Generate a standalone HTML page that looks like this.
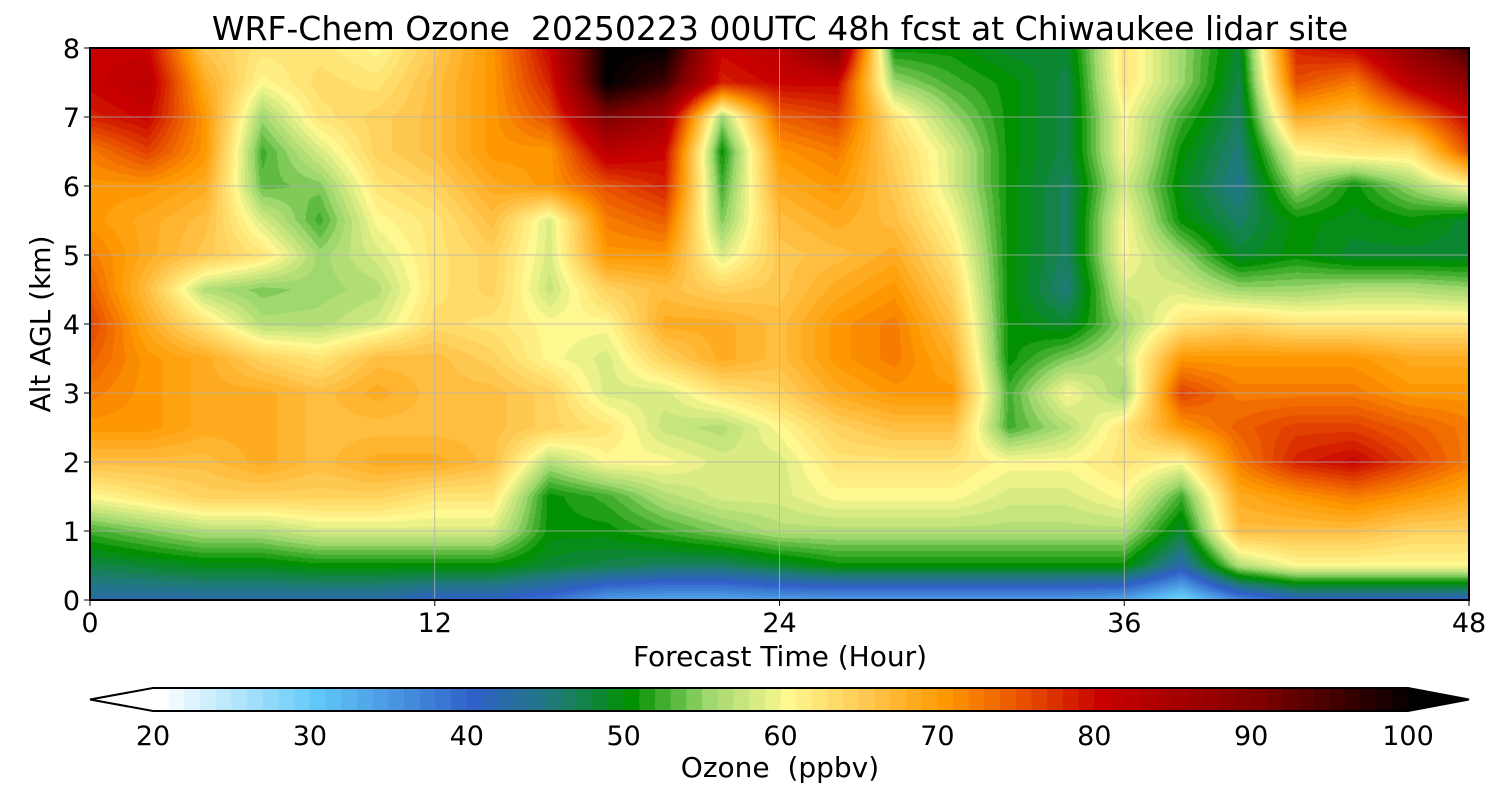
<!DOCTYPE html>
<html><head><meta charset="utf-8"><style>
body{margin:0;background:#fff;width:1500px;height:800px;overflow:hidden;font-family:"DejaVu Sans","Liberation Sans",sans-serif}
#wrap{position:relative;width:1500px;height:800px}
canvas{position:absolute}
svg text{font-family:"DejaVu Sans","Liberation Sans",sans-serif;white-space:pre}
</style></head><body>
<div id="wrap">
<canvas id="plot" width="1379" height="552" style="left:90px;top:48px"></canvas>
<svg id="svg" width="1500" height="800" style="position:absolute;left:0;top:0"></svg>
</div>
<script>
const times=[0,2,4,6,8,10,12,14,16,18,20,22,24,26,28,30,32,34,36,38,40,42,44,46,48];
const alts=[8,7.5,7,6.5,6,5.5,5,4.5,4,3.5,3,2.5,2,1.5,1,0.5,0];
const ozone=[
[80,80,65,62,62,60,65,70,80,100,100,80,82,90,50,50,48,48,62,55,48,78,80,88,95],
[80,82,68,60,63,62,66,70,78,100,95,78,80,80,55,52,50,47,62,55,47,75,72,82,88],
[78,80,70,55,62,64,66,70,75,90,85,55,74,76,62,55,50,47,60,52,46,68,66,72,80],
[72,76,70,52,58,64,66,70,70,82,80,50,70,72,64,58,50,47,60,50,45,60,62,62,75],
[70,70,68,53,54,62,64,68,70,75,78,52,68,70,65,58,50,46,58,49,44,55,50,55,60],
[70,68,66,58,52,60,62,66,58,72,74,54,66,68,66,60,50,46,60,50,46,50,49,50,48],
[72,68,65,62,55,58,62,64,58,70,70,58,65,66,68,62,50,46,60,55,48,50,48,48,48],
[74,66,56,54,55,56,62,64,57,64,66,64,65,68,70,64,50,45,58,58,55,55,56,56,55],
[76,68,62,56,56,58,63,62,60,60,68,68,66,70,72,66,50,48,55,62,64,62,62,62,62],
[74,70,68,64,62,66,66,64,60,58,64,68,66,70,72,68,50,54,57,70,70,70,70,68,68],
[72,70,68,68,66,68,66,66,64,58,58,62,64,68,70,70,52,60,55,76,72,72,72,70,70],
[70,70,68,68,66,66,66,66,64,62,57,56,60,64,66,66,52,56,62,70,74,76,76,74,72],
[66,66,66,68,66,68,68,66,56,60,60,58,58,62,62,62,60,60,62,60,72,78,80,76,72],
[60,62,64,64,64,64,62,62,50,52,56,58,58,60,60,60,58,58,60,52,68,70,72,70,68],
[52,54,56,56,58,58,58,58,50,50,52,54,56,56,56,56,56,56,56,48,66,66,66,64,64],
[47,48,49,49,50,50,50,50,48,47,46,46,48,50,50,50,50,50,50,42,56,60,60,60,60],
[42,42,42,42,42,42,40,40,38,34,33,33,34,34,34,34,34,34,33,28,36,40,40,40,40]];
const xTicks=[0,12,24,36,48];
const yTicks=[0,1,2,3,4,5,6,7,8];
const cbTicks=[20,30,40,50,60,70,80,90,100];
const cmapVals=[20,30,40,45,50,55,60,65,70,75,80,90,100];
const cmapCols=["#ffffff","#60c8f8","#3060c8","#1f7a7a","#009000","#a0d870","#fff890","#ffc850","#ff9800","#e85000","#c80000","#800000","#000000"];
const PX=90,PY=48,PW=1379,PH=552;
const xs=t=>PX+t/48*PW, ys=z=>PY+PH-z/8*PH;
function hex(c){return[parseInt(c.slice(1,3),16),parseInt(c.slice(3,5),16),parseInt(c.slice(5,7),16)]}
const rgbs=cmapCols.map(hex);
function color(v){v=Math.round(Math.max(20,Math.min(100,v)));
 for(let i=0;i<cmapVals.length-1;i++){if(v<=cmapVals[i+1]){const f=(v-cmapVals[i])/(cmapVals[i+1]-cmapVals[i]);const a=rgbs[i],b=rgbs[i+1];return[a[0]+(b[0]-a[0])*f,a[1]+(b[1]-a[1])*f,a[2]+(b[2]-a[2])*f]}}return rgbs[rgbs.length-1]}
const cv=document.getElementById('plot'),ctx=cv.getContext('2d'),img=ctx.createImageData(PW,PH);
const nT=times.length,nZ=alts.length;
for(let py=0;py<PH;py++){const z=8-(py+0.5)/PH*8;let zi=(8-z)/0.5;let r=Math.min(nZ-2,Math.floor(zi));let fz=zi-r;
 for(let px=0;px<PW;px++){const t=(px+0.5)/PW*48;let ti=t/2;let c=Math.min(nT-2,Math.floor(ti));let ft=ti-c;
  const v=(ozone[r][c]*(1-ft)+ozone[r][c+1]*ft)*(1-fz)+(ozone[r+1][c]*(1-ft)+ozone[r+1][c+1]*ft)*fz;
  const col=color(v);const k=(py*PW+px)*4;img.data[k]=col[0];img.data[k+1]=col[1];img.data[k+2]=col[2];img.data[k+3]=255;}}
ctx.putImageData(img,0,0);
const svg=document.getElementById('svg'),NS='http://www.w3.org/2000/svg';
function el(tag,attrs,parent){const e=document.createElementNS(NS,tag);for(const k in attrs)e.setAttribute(k,attrs[k]);(parent||svg).appendChild(e);return e}
xTicks.forEach(t=>{const l=el('line',{x1:xs(t),x2:xs(t),y1:PY,y2:PY+PH,stroke:'#b0b0b0','stroke-width':0.8});


const tk=el('line',{x1:xs(t),x2:xs(t),y1:PY+PH,y2:PY+PH+6,stroke:'#000','stroke-width':1});


const tx=el('text',{x:xs(t),y:PY+PH+32,'text-anchor':'middle','font-size':27});tx.textContent=t;

});
yTicks.forEach(z=>{const l=el('line',{x1:PX,x2:PX+PW,y1:ys(z),y2:ys(z),stroke:'#b0b0b0','stroke-width':0.8});


const tk=el('line',{x1:PX-6,x2:PX,y1:ys(z),y2:ys(z),stroke:'#000','stroke-width':1});


const tx=el('text',{x:PX-10,y:ys(z)+10,'text-anchor':'end','font-size':27});tx.textContent=z;

});
const fr=el('rect',{x:PX,y:PY,width:PW,height:PH,fill:'none',stroke:'#000','stroke-width':2});


const ti=el('text',{x:780,y:40,'text-anchor':'middle','font-size':33});ti.textContent='WRF-Chem Ozone  20250223 00UTC 48h fcst at Chiwaukee lidar site';


const xl=el('text',{x:780,y:666,'text-anchor':'middle','font-size':28});xl.textContent='Forecast Time (Hour)';


const yl=el('text',{x:50,y:324,'text-anchor':'middle','font-size':28,transform:'rotate(-90 50 324)'});yl.textContent='Alt AGL (km)';


const CX0=153,CX1=1408,CY=688,CH=23;const cbx=v=>CX0+(v-20)/80*(CX1-CX0);
const lo=el('polygon',{points:`${CX0},${CY} 90,${CY+CH/2} ${CX0},${CY+CH}`,fill:'#fff'});


const hi=el('polygon',{points:`${CX1},${CY} 1469,${CY+CH/2} ${CX1},${CY+CH}`,fill:'#000'});


for(let v=20;v<100;v++){const c=color(v);const r=el('rect',{x:cbx(v),y:CY,width:cbx(v+1)-cbx(v)+0.5,height:CH,fill:`rgb(${c.map(Math.round).join(',')})`});

}
const ob=el('polygon',{points:`${CX0},${CY} ${CX1},${CY} 1469,${CY+CH/2} ${CX1},${CY+CH} ${CX0},${CY+CH} 90,${CY+CH/2}`,fill:'none',stroke:'#000','stroke-width':2});


cbTicks.forEach(v=>{const tx=el('text',{x:cbx(v),y:745,'text-anchor':'middle','font-size':27});tx.textContent=v;

});
const cl=el('text',{x:780,y:777,'text-anchor':'middle','font-size':28});cl.textContent='Ozone  (ppbv)';


</script>
</body></html>
